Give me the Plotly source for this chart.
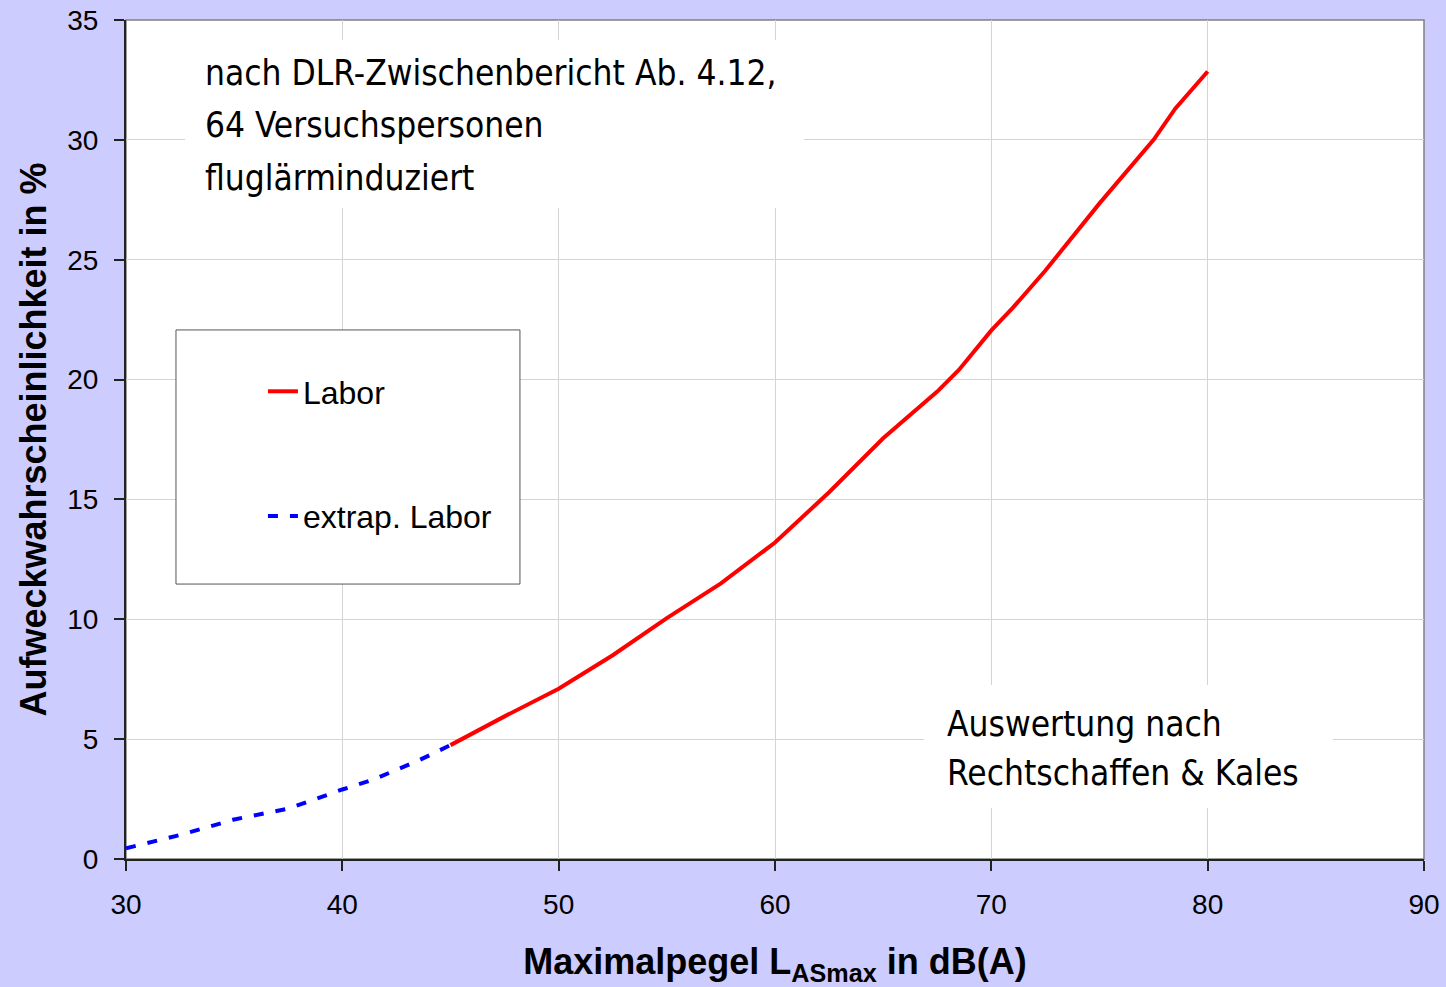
import plotly.graph_objects as go

# ---- data ----
lab_x = [45, 47.5, 50, 52.5, 55, 57.5, 60, 62.5, 65, 67.5, 68.5, 70, 71, 72.5, 75, 77.5, 78.5, 80]
lab_y = [4.75, 5.95, 7.1, 8.5, 10.05, 11.5, 13.2, 15.3, 17.55, 19.5, 20.4, 22.05, 23.0, 24.55, 27.35, 30.0, 31.3, 32.85]

ext_x = [30, 32.5, 35, 37.5, 38.6, 40, 41.4, 42.5, 43.5, 45]
ext_y = [0.45, 1.0, 1.65, 2.1, 2.45, 2.9, 3.3, 3.7, 4.1, 4.75]

x_ticks = [30, 40, 50, 60, 70, 80, 90]
y_ticks = [0, 5, 10, 15, 20, 25, 30, 35]

BG = "#CCCCFF"
NARROW = "Liberation Sans Narrow, Arial Narrow, DejaVu Sans Condensed, sans-serif"
SANS = "Liberation Sans, Arial, sans-serif"

fig = go.Figure()
fig.add_trace(go.Scatter(
    x=lab_x, y=lab_y, mode="lines", name="Labor",
    line=dict(color="#FF0000", width=4), legendgroup="a", legendrank=1))
fig.add_trace(go.Scatter(
    x=ext_x, y=ext_y, mode="lines", name="extrap. Labor",
    line=dict(color="#0000FF", width=4, dash="10px,12px"), legendgroup="b", legendrank=2))

shapes = [
    # plot-area frame (grey top/right edge)
    dict(type="rect", xref="paper", yref="paper", x0=0, x1=1, y0=0, y1=1,
         fillcolor="rgba(0,0,0,0)", line=dict(color="#808080", width=1.5), layer="below"),
    # legend frame
    dict(type="rect", xref="x", yref="y", x0=32.31, x1=48.21, y0=11.47, y1=22.07,
         fillcolor="white", line=dict(color="#555555", width=1), layer="above"),
    # white backgrounds behind the text blocks
    dict(type="rect", xref="x", yref="y", x0=32.73, x1=61.34, y0=27.16, y1=34.17,
         fillcolor="white", line=dict(width=0), layer="above"),
    dict(type="rect", xref="x", yref="y", x0=66.89, x1=85.79, y0=2.13, y1=7.26,
         fillcolor="white", line=dict(width=0), layer="above"),
]

ann_font = dict(family=NARROW, size=35, color="black")
annotations = []
for txt, yy in [("nach DLR-Zwischenbericht Ab. 4.12,", 32.78),
                ("64 Versuchspersonen", 30.6),
                ("fluglärminduziert", 28.4)]:
    annotations.append(dict(x=33.56, y=yy, xref="x", yref="y", text=txt, showarrow=False,
                            xanchor="left", yanchor="middle", font=ann_font))
for txt, yy in [("Auswertung nach", 5.65), ("Rechtschaffen &amp; Kales", 3.57)]:
    annotations.append(dict(x=67.86, y=yy, xref="x", yref="y", text=txt, showarrow=False,
                            xanchor="left", yanchor="middle", font=ann_font))

fig.update_layout(
    width=1446, height=987,
    paper_bgcolor=BG, plot_bgcolor="white",
    margin=dict(l=126, r=22, t=20, b=128, autoexpand=False),
    font=dict(family=SANS, color="black"),
    shapes=shapes, annotations=annotations,
    showlegend=True,
    legend=dict(x=0.1055, y=0.590, xanchor="left", yanchor="top",
                bgcolor="rgba(0,0,0,0)", borderwidth=0,
                font=dict(family=SANS, size=32, color="black"),
                tracegroupgap=80, traceorder="grouped", itemwidth=30),
    xaxis=dict(range=[30, 90], tickvals=x_ticks, ticktext=[str(v) for v in x_ticks],
               automargin=False,
               showgrid=True, gridcolor="#D4D4D4", gridwidth=1,
               showline=True, linecolor="#222222", linewidth=2,
               ticks="outside", ticklen=10, tickwidth=1.5, tickcolor="#222222",
               ticklabelstandoff=9,
               tickfont=dict(family=SANS, size=28, color="black"),
               zeroline=False,
               title=dict(text="<b>Maximalpegel L<sub>ASmax</sub> in dB(A)</b>",
                          font=dict(family=SANS, size=36, color="black"), standoff=34)),
    yaxis=dict(range=[0, 35], tickvals=y_ticks, ticktext=[str(v) for v in y_ticks],
               automargin=False,
               showgrid=True, gridcolor="#D4D4D4", gridwidth=1,
               showline=True, linecolor="#222222", linewidth=2,
               ticks="outside", ticklen=10, tickwidth=1.5, tickcolor="#222222",
               ticklabelstandoff=10,
               tickfont=dict(family=SANS, size=28, color="black"),
               zeroline=False,
               title=dict(text="<b>Aufweckwahrscheinlichkeit in %</b>",
                          font=dict(family=SANS, size=36, color="black"), standoff=10)),
)

fig.write_html("out.html", config={"displayModeBar": False},
               post_script="document.body.style.margin='0';document.body.style.overflow='hidden';")
